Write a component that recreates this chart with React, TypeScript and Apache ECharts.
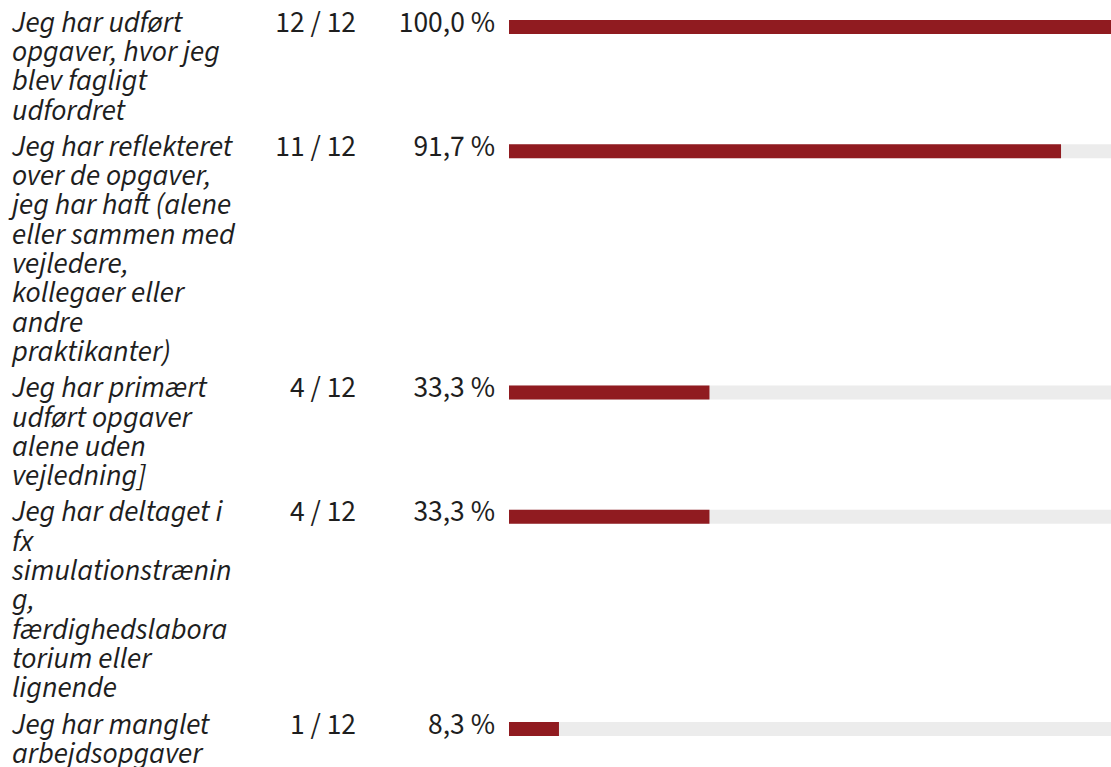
import React, { useEffect, useRef } from "react";
import * as echarts from "echarts";

const questions: string[] = [
  "Jeg har udført\nopgaver, hvor jeg\nblev fagligt\nudfordret",
  "Jeg har reflekteret\nover de opgaver,\njeg har haft (alene\neller sammen med\nvejledere,\nkollegaer eller\nandre\npraktikanter)",
  "Jeg har primært\nudført opgaver\nalene uden\nvejledning]",
  "Jeg har deltaget i\nfx\nsimulationstrænin\ng,\nfærdighedslabora\ntorium eller\nlignende",
  "Jeg har manglet\narbejdsopgaver",
];
const counts: number[] = [12, 11, 4, 4, 1];
const totals: number[] = [12, 12, 12, 12, 12];
const percents: number[] = [100.0, 91.7, 33.3, 33.3, 8.3];

const FONT = "'Source Sans Pro', 'Source Sans 3', Lato, sans-serif";
const FS = 29.5;
const LH = 29.3;
const PAD = 7;
const TOP0 = 8;
const BAR_OFF = 12;
const BAR_H = 14;
const BAR_LEFT = 509;
const TEXT_COLOR = "#1e1e1e";
const BAR_COLOR = "#901b20";
const TRACK_COLOR = "#ececec";

function fmtPct(v: number): string {
  return v.toFixed(1).replace(".", ",") + " %";
}

export default function App() {
  const ref = useRef<HTMLDivElement>(null);
  useEffect(() => {
    if (!ref.current) return;
    const chart = echarts.init(ref.current, undefined, { renderer: "svg" });

    const rowTops: number[] = [];
    let y = TOP0;
    questions.forEach((q) => {
      rowTops.push(y);
      y += q.split("\n").length * LH + PAD;
    });

    const grids: any[] = [];
    const xAxes: any[] = [];
    const yAxes: any[] = [];
    const series: any[] = [];
    const graphics: any[] = [];

    questions.forEach((q, i) => {
      const top = rowTops[i];
      grids.push({
        left: BAR_LEFT,
        right: -10,
        top: top + BAR_OFF,
        height: BAR_H,
        containLabel: false,
      });
      xAxes.push({ type: "value", gridIndex: i, min: 0, max: 100, show: false });
      yAxes.push({ type: "category", gridIndex: i, data: [String(i)], show: false });
      series.push({
        type: "bar",
        xAxisIndex: i,
        yAxisIndex: i,
        data: [percents[i]],
        barWidth: BAR_H,
        showBackground: true,
        backgroundStyle: { color: TRACK_COLOR },
        itemStyle: { color: BAR_COLOR },
        silent: true,
      });
      graphics.push({
        type: "text",
        x: 12,
        y: top,
        style: {
          text: q,
          fontFamily: FONT,
          fontSize: FS,
          fontStyle: "italic",
          lineHeight: LH,
          fill: TEXT_COLOR,
          align: "left",
          verticalAlign: "top",
        },
      });
      graphics.push({
        type: "text",
        x: 356,
        y: top,
        style: {
          text: `${counts[i]} / ${totals[i]}`,
          fontFamily: FONT,
          fontSize: FS,
          lineHeight: LH,
          fill: TEXT_COLOR,
          align: "right",
          verticalAlign: "top",
        },
      });
      graphics.push({
        type: "text",
        x: 495,
        y: top,
        style: {
          text: fmtPct(percents[i]),
          fontFamily: FONT,
          fontSize: FS,
          lineHeight: LH,
          fill: TEXT_COLOR,
          align: "right",
          verticalAlign: "top",
        },
      });
    });

    chart.setOption({
      animation: false,
      backgroundColor: "#ffffff",
      grid: grids,
      xAxis: xAxes,
      yAxis: yAxes,
      series,
      graphic: graphics,
    });
    return () => chart.dispose();
  }, []);

  return (
    <div
      ref={ref}
      style={{ position: "fixed", left: 0, top: 0, width: 1111, height: 767 }}
    />
  );
}
